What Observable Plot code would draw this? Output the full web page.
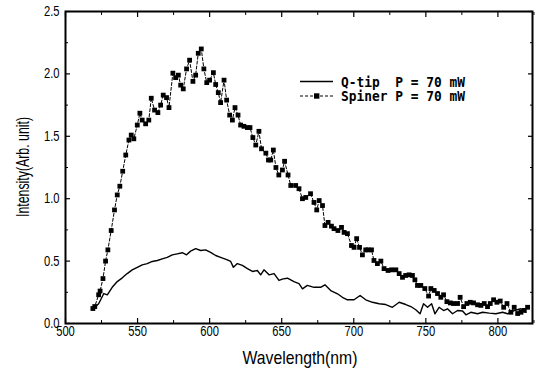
<!DOCTYPE html>
<html>
<head>
<meta charset="utf-8">
<script src="https://cdn.jsdelivr.net/npm/d3@7"></script>
<script src="https://cdn.jsdelivr.net/npm/@observablehq/plot@0.6"></script>
<style>
  html, body { margin: 0; padding: 0; background: white; }
</style>
</head>
<body>
<div id="chart"></div>
<script>
const spinerWl = [519,520.3,523,524,526,527.8,529.4,531.7,534,535.9,537.7,539.7,541.8,544,545.6,547.4,549.8,551.6,553.2,555.6,557.8,559.5,561.8,564.1,566,567.8,570.1,571.8,574.5,576.4,578.3,579.9,581.7,584,586.1,588.4,590.3,592.1,594.2,596,598,600,602.6,604.2,606,607.6,610,611.8,613.9,615.8,617.6,619.7,621.5,623.8,626.2,628,630,632,634.2,636,639,640.8,642.4,644.2,646,648,650.5,652,654.4,656.3,659.7,662,664.4,666.7,670,672.4,674.3,676,678.3,680,682.2,684.5,686.3,689,691.5,693.3,695.6,698.4,700.2,702,704,706,708.3,710,712.3,714,716.4,718.8,721,723.8,726.2,729.2,731.5,733.8,736,738.4,740.7,742.4,744.2,746.5,749.3,751.9,753.5,755.8,758.1,760.4,762.3,764.6,767,769.2,772,773.8,776.2,778.5,780.8,783.1,785.9,788.2,790.5,792.8,794.7,797,799.3,801.6,804,806.3,809,811.3,813.7,816,818.3,820.6];
const spinerI = [0.12,0.136,0.23,0.26,0.36,0.50,0.59,0.745,0.91,1.03,1.10,1.22,1.35,1.47,1.51,1.48,1.59,1.685,1.63,1.60,1.63,1.805,1.71,1.69,1.75,1.83,1.81,1.73,2.006,1.97,1.99,1.91,1.88,2.04,2.11,1.94,1.99,2.165,2.20,2.04,1.93,1.95,2.01,1.915,1.85,1.77,1.95,1.79,1.67,1.63,1.73,1.67,1.59,1.58,1.57,1.57,1.49,1.43,1.54,1.40,1.365,1.31,1.31,1.39,1.25,1.19,1.23,1.30,1.19,1.106,1.106,1.08,1.0,1.01,1.04,0.97,0.91,0.985,0.945,0.785,0.81,0.78,0.76,0.745,0.77,0.73,0.72,0.625,0.61,0.68,0.61,0.55,0.59,0.59,0.59,0.505,0.48,0.50,0.44,0.425,0.43,0.43,0.40,0.37,0.385,0.39,0.385,0.35,0.305,0.305,0.28,0.22,0.28,0.265,0.24,0.21,0.23,0.175,0.165,0.16,0.16,0.21,0.135,0.16,0.17,0.165,0.15,0.145,0.16,0.135,0.16,0.19,0.17,0.18,0.13,0.16,0.09,0.13,0.08,0.09,0.105,0.13];

const qtipWl = [519.2,523,526.6,529,532.4,535.9,539.4,542.8,546.3,549.8,553.2,556.7,560.2,563.7,567.1,570.6,574.1,577.5,581,584,586.8,590.3,593.8,597.2,600.7,604.2,607.6,612.3,614.6,616.5,619.2,622.7,626.2,629.7,633.1,635.4,637.7,641.2,644.7,648.1,651,654,658.5,662,664.4,667.8,672.4,677,680,684,688.7,692.1,695.6,700.2,704.4,708.3,713,717.6,722.2,726.8,731.5,736.1,739.6,743,746,748.4,751.2,754,756.3,759.2,762.3,765,768.5,772,775.5,777.8,781.2,785.9,789.4,794,798.6,803.3,806.7,811.3,816,819.4];
const qtipI = [0.118,0.158,0.24,0.23,0.29,0.336,0.366,0.40,0.43,0.45,0.47,0.48,0.497,0.505,0.518,0.53,0.55,0.558,0.567,0.55,0.58,0.60,0.585,0.59,0.57,0.545,0.53,0.51,0.497,0.45,0.48,0.465,0.44,0.417,0.425,0.39,0.43,0.39,0.40,0.345,0.358,0.363,0.336,0.32,0.278,0.305,0.29,0.29,0.31,0.264,0.238,0.21,0.19,0.19,0.224,0.19,0.17,0.158,0.152,0.13,0.17,0.152,0.136,0.11,0.078,0.158,0.13,0.158,0.078,0.13,0.104,0.118,0.078,0.104,0.10,0.07,0.09,0.078,0.09,0.083,0.078,0.09,0.078,0.104,0.118,0.09];

const xTicks = [500, 550, 600, 650, 700, 750, 800];
const xMinor = [525, 575, 625, 675, 725, 775, 825];
const yTicks = [0, 0.5, 1.0, 1.5, 2.0, 2.5];
const yMinor = [0.25, 0.75, 1.25, 1.75, 2.25];
const xTitle = "Wavelength(nm)";
const yTitle = "Intensity(Arb. unit)";
const legendLabels = ["Q-tip  P = 70 mW", "Spiner P = 70 mW"];

const spiner = spinerWl.map((w, i) => ({w, v: spinerI[i]}));
const qtip = qtipWl.map((w, i) => ({w, v: qtipI[i]}));

const W = 539, H = 372;
const mL = 65, mR = 7, mT = 11, mB = 49;
const font = "'Liberation Sans', Arial, sans-serif";
const ink = "#000000";

const chart = Plot.plot({
  width: W, height: H,
  marginLeft: mL, marginRight: mR, marginTop: mT, marginBottom: mB,
  x: {domain: [500, 824]},
  y: {domain: [0, 2.5]},
  style: {fontFamily: font, fontSize: "14px", background: "white"},
  marks: [
    Plot.axisX({anchor: "bottom", ticks: xTicks, tickSize: -5, tickPadding: 8, tickFormat: d => String(d), label: null, stroke: ink, strokeWidth: 1.2}),
    Plot.axisX({anchor: "bottom", ticks: xMinor, tickSize: -3, tickFormat: () => "", label: null, stroke: ink}),
    Plot.axisX({anchor: "top", ticks: xTicks, tickSize: -5, tickFormat: () => "", label: null, stroke: ink, strokeWidth: 1.2}),
    Plot.axisX({anchor: "top", ticks: xMinor, tickSize: -3, tickFormat: () => "", label: null, stroke: ink}),
    Plot.axisY({anchor: "left", ticks: yTicks, tickSize: -5, tickPadding: 11, tickFormat: d => d.toFixed(1), label: null, stroke: ink, strokeWidth: 1.2}),
    Plot.axisY({anchor: "left", ticks: yMinor, tickSize: -3, tickFormat: () => "", label: null, stroke: ink}),
    Plot.axisY({anchor: "right", ticks: yTicks, tickSize: -5, tickFormat: () => "", label: null, stroke: ink, strokeWidth: 1.2}),
    Plot.axisY({anchor: "right", ticks: yMinor, tickSize: -3, tickFormat: () => "", label: null, stroke: ink}),
    Plot.line(qtip, {x: "w", y: "v", stroke: ink, strokeWidth: 1.4}),
    Plot.line(spiner, {x: "w", y: "v", stroke: ink, strokeWidth: 1, strokeDasharray: "3,2"}),
    Plot.dot(spiner, {x: "w", y: "v", symbol: "square", r: 2.7, fill: ink, stroke: "none"}),
    Plot.frame({stroke: ink, strokeWidth: 2})
  ]
});

document.getElementById("chart").appendChild(chart);

const svg = d3.select(chart);

// condense tick labels (narrow face as in reference)
svg.selectAll("g[aria-label$='tick label'] text").each(function () {
  const w = this.getComputedTextLength();
  if (w > 0) {
    this.setAttribute("textLength", (w * 0.8).toFixed(2));
    this.setAttribute("lengthAdjust", "spacingAndGlyphs");
  }
});

svg.append("text")
  .attr("x", 300).attr("y", 364)
  .attr("text-anchor", "middle")
  .style("font-family", font).style("font-size", "19px").attr("fill", ink)
  .attr("textLength", 115).attr("lengthAdjust", "spacingAndGlyphs")
  .text(xTitle);

svg.append("text")
  .attr("transform", "translate(29,167) rotate(-90)")
  .attr("text-anchor", "middle")
  .style("font-family", font).style("font-size", "18px").attr("fill", ink)
  .attr("textLength", 100).attr("lengthAdjust", "spacingAndGlyphs")
  .text(yTitle);

// legend
const lg = svg.append("g");
const rows = [81.5, 96];
lg.append("line").attr("x1", 300).attr("x2", 333).attr("y1", rows[0]).attr("y2", rows[0])
  .attr("stroke", ink).attr("stroke-width", 1.4);
lg.append("line").attr("x1", 300).attr("x2", 333).attr("y1", rows[1]).attr("y2", rows[1])
  .attr("stroke", ink).attr("stroke-width", 1).attr("stroke-dasharray", "3,2");
lg.append("rect").attr("x", 314).attr("y", rows[1] - 2.7).attr("width", 5.4).attr("height", 5.4).attr("fill", ink);
legendLabels.forEach((t, i) => {
  lg.append("text")
    .attr("x", 341).attr("y", rows[i])
    .attr("dy", "0.36em")
    .attr("text-anchor", "start")
    .style("font-family", "'DejaVu Sans Mono', monospace").style("font-size", "14px")
    .style("font-weight", "bold").style("white-space", "pre")
    .attr("textLength", 124).attr("lengthAdjust", "spacingAndGlyphs")
    .attr("fill", ink)
    .text(t);
});
</script>
</body>
</html>
